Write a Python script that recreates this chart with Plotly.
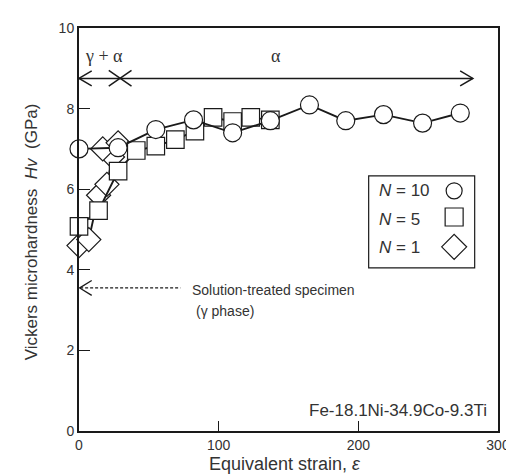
import plotly.graph_objects as go

# ---- data ----
n10_strain = [0, 28, 55, 82, 110, 137, 165, 191, 218, 246, 273]
n10_hv = [7.0, 7.03, 7.48, 7.72, 7.40, 7.70, 8.09, 7.70, 7.85, 7.64, 7.89]

n5_strain = [0, 14, 28, 41, 55, 69, 83, 96, 110, 123, 137]
n5_hv = [5.08, 5.47, 6.45, 6.96, 7.07, 7.23, 7.44, 7.78, 7.68, 7.78, 7.72]

n1_strain = [0, 7, 14, 20, 24, 17, 28]
n1_hv = [4.6, 4.75, 5.85, 6.12, 6.8, 7.0, 7.15]

x_ticks = [0, 100, 200, 300]
y_ticks = [0, 2, 4, 6, 8, 10]

LINE = "#1a1a1a"
TXT = "#333333"

fig = go.Figure()

def add_series(x, y, symbol, size, name):
    fig.add_trace(go.Scatter(
        x=x, y=y, mode="lines+markers", name=name,
        line=dict(color=LINE, width=1.9),
        marker=dict(symbol=symbol, size=size, color="white",
                    line=dict(color=LINE, width=1.2)),
        showlegend=False, cliponaxis=False,
    ))

add_series(n1_strain, n1_hv, "diamond", 18.5, "N = 1")
add_series(n5_strain, n5_hv, "square", 17.5, "N = 5")
add_series(n10_strain, n10_hv, "circle", 18, "N = 10")

shapes = []
# top phase arrow
ya = 8.75
dx_arm = 9.1
dy_arm = 0.184
shapes.append(dict(type="line", xref="x", yref="y", x0=0, x1=282, y0=ya, y1=ya,
                   line=dict(color=LINE, width=1.5)))
shapes.append(dict(type="path", xref="x", yref="y",
                   path=f"M {dx_arm},{ya+dy_arm} L 0,{ya} L {dx_arm},{ya-dy_arm}",
                   line=dict(color=LINE, width=1.5)))
shapes.append(dict(type="path", xref="x", yref="y",
                   path=f"M {282-dx_arm},{ya+dy_arm} L 282,{ya} L {282-dx_arm},{ya-dy_arm}",
                   line=dict(color=LINE, width=1.5)))
# X mark at boundary
shapes.append(dict(type="path", xref="x", yref="y",
                   path="M 21.3,8.95 L 37.6,8.56 M 21.3,8.56 L 37.6,8.95",
                   line=dict(color=LINE, width=1.5)))
# dotted arrow to solution-treated level
yd = 3.55
shapes.append(dict(type="line", xref="x", yref="y", x0=0.8, x1=72.6, y0=yd, y1=yd,
                   line=dict(color=LINE, width=1.2, dash="3px,2px")))
shapes.append(dict(type="path", xref="x", yref="y",
                   path=f"M {dx_arm},{yd+dy_arm} L 0.5,{yd} L {dx_arm},{yd-dy_arm}",
                   line=dict(color=LINE, width=1.3)))

# legend box
shapes.append(dict(type="rect", xref="x", yref="y", x0=207.4, x1=283.3, y0=4.05, y1=6.33,
                   line=dict(color=LINE, width=1.2), fillcolor="white", layer="above"))
# legend symbols (pixel sized, anchored in data coords)
lx = 268.6
shapes.append(dict(type="circle", xref="x", yref="y", xsizemode="pixel", ysizemode="pixel",
                   xanchor=lx, yanchor=5.96, x0=-8, x1=8, y0=-8, y1=8,
                   line=dict(color=LINE, width=1.2), fillcolor="white"))
shapes.append(dict(type="rect", xref="x", yref="y", xsizemode="pixel", ysizemode="pixel",
                   xanchor=lx, yanchor=5.31, x0=-9, x1=9, y0=-9, y1=9,
                   line=dict(color=LINE, width=1.2), fillcolor="white"))
shapes.append(dict(type="path", xref="x", yref="y", xsizemode="pixel", ysizemode="pixel",
                   xanchor=lx, yanchor=4.57,
                   path="M -12.5,0 L 0,12.5 L 12.5,0 L 0,-12.5 Z",
                   line=dict(color=LINE, width=1.2), fillcolor="white"))

annotations = []
def ann(text, x, y, size, xanchor="left", family="Liberation Sans, Arial, sans-serif",
        xref="x", yref="y", **kw):
    annotations.append(dict(text=text, x=x, y=y, xref=xref, yref=yref, showarrow=False,
                            xanchor=xanchor, yanchor="middle", borderpad=0,
                            font=dict(size=size, color=TXT, family=family), **kw))

ann("<i>N</i> = 10", 214, 5.96, 17)
ann("<i>N</i> = 5", 214, 5.26, 17)
ann("<i>N</i> = 1", 214, 4.55, 17)

ann("\u03b3 + \u03b1", 17.9, 9.30, 18, xanchor="center",
    family="Liberation Serif, Times New Roman, serif")
ann("\u03b1", 141, 9.30, 18, xanchor="center",
    family="Liberation Serif, Times New Roman, serif")

ann("Solution-treated specimen", 80.3, 3.50, 14)
ann("(\u03b3 phase)", 83, 2.97, 14)
ann("Fe-18.1Ni-34.9Co-9.3Ti", 293, 0.52, 17, xanchor="right")

# axis titles
ann("Equivalent strain, <i>\u03b5</i>", 0.491, 0, 18, xanchor="center",
    xref="paper", yref="paper", yshift=-33)
ann("Vickers microhardness  <i>Hv</i>  (GPa)", 0, 0.493, 17, xanchor="center",
    xref="paper", yref="paper", xshift=-48, textangle=-90)

fig.update_layout(
    width=514, height=474,
    margin=dict(l=71, r=13, t=16, b=51, pad=0),
    paper_bgcolor="white", plot_bgcolor="white",
    shapes=shapes, annotations=annotations,
    showlegend=False,
    font=dict(family="Liberation Sans, Arial, sans-serif", color=TXT),
)
fig.update_xaxes(
    range=[0, 300], tickvals=x_ticks, ticktext=[str(v) for v in x_ticks],
    ticks="inside", ticklen=10, tickwidth=1.2, tickcolor=LINE,
    showline=True, linecolor=LINE, linewidth=2, mirror=True,
    showgrid=False, zeroline=False, tickfont=dict(size=14, color=TXT),
)
fig.update_yaxes(
    range=[0, 10], tickvals=y_ticks, ticktext=[str(v) for v in y_ticks],
    ticks="inside", ticklen=11, tickwidth=1.2, tickcolor=LINE,
    showline=True, linecolor=LINE, linewidth=2, mirror=True,
    showgrid=False, zeroline=False, tickfont=dict(size=14, color=TXT),
)

fig.write_html("out.html")
